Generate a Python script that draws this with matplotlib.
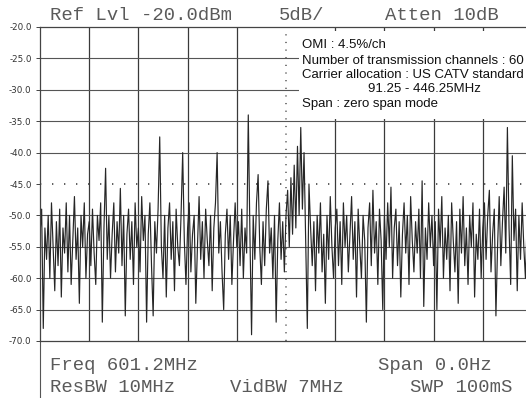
import numpy as np
import matplotlib
matplotlib.use("Agg")
import matplotlib.pyplot as plt
from matplotlib.patches import Rectangle

div0 = [-53, -49, -68, -52, -57, -50, -60, -48, -55, -62, -51, -58, -49, -63, -52,
        -56, -48, -59, -50, -61, -54, -47, -57, -52, -64, -50, -55, -48, -60, -53]
div1 = [-51, -58, -49, -56, -61, -50, -54, -48, -67, -52, -42.5, -57, -50, -60, -53,
        -48, -59, -51, -56, -45.7, -58, -50, -66, -53, -49, -57, -51, -61, -48, -55]
div2 = [-52, -59, -47, -54, -50, -67, -53, -48, -58, -66, -51, -56, -49, -37.5, -55,
        -60, -50, -63, -52, -48, -57, -51, -62, -49, -55, -58, -50, -40, -54, -61]
div3 = [-52, -48, -59, -53, -50, -64, -55, -47, -57, -51, -60, -49, -54, -58, -50,
        -62, -52, -48, -40, -56, -51, -59, -65, -53, -49, -57, -50, -61, -54, -48]
div4 = [-55, -51, -58, -49, -60, -52, -56, -34, -53, -69, -50, -57, -48, -43.5, -55,
        -61, -51, -58, -49, -44.5, -56, -52, -60, -50, -67, -54, -48, -57, -51, -59]
div5 = [-50, -46, -55, -44, -53, -42, -52, -39, -50, -36, -49, -40, -54, -68, -45,
        -52, -58, -51, -62, -50, -56, -48, -59, -53, -64, -50, -57, -47, -55, -60]
div6 = [-52, -49, -58, -51, -61, -48, -55, -50, -59, -53, -47, -57, -51, -63, -49,
        -55, -60, -50, -54, -67, -52, -48, -58, -46, -56, -51, -61, -49, -54, -65]
div7 = [-50, -57, -48, -55, -45.5, -60, -52, -49, -58, -51, -63, -53, -48, -56, -50,
        -61, -47, -54, -59, -51, -56, -49, -60, -44.5, -64.5, -52, -57, -48, -55, -50]
div8 = [-58, -51, -65, -49, -55, -47, -60, -52, -57, -50, -62, -48, -54, -59, -51,
        -64, -49, -56, -47, -58, -52, -61, -50, -55, -48, -63, -53, -57, -49, -60]
div9 = [-52, -48, -57, -50, -46, -59, -53, -49, -66, -55, -47, -58, -51, -45.5, -56,
        -36, -52, -61, -40.5, -54, -49, -62, -50, -57, -48, -55, -60, -51, -56, -52]

level_dbm = np.array(div0 + div1 + div2 + div3 + div4 + div5 + div6 + div7 + div8 + div9)
sweep_ms = 100.0
display_line = -45.0
ytick_vals = [-20, -25, -30, -35, -40, -45, -50, -55, -60, -65, -70]

header = ["Ref Lvl -20.0dBm", "5dB/", "Atten 10dB"]
footer_1 = ["Freq 601.2MHz", "Span 0.0Hz"]
footer_2 = ["ResBW 10MHz", "VidBW 7MHz", "SWP 100mS"]
notes = ["OMI : 4.5%/ch",
         "Number of transmission channels : 60",
         "Carrier allocation : US CATV standard",
         "91.25 - 446.25MHz",
         "Span : zero span mode"]

W, H = 526, 398
fig = plt.figure(figsize=(W / 100, H / 100), dpi=100)
# plot area runs a little past the right edge of the scan
ax = fig.add_axes([40 / W, (H - 341) / H, 492 / W, 314 / H])
ax.set_xlim(0, sweep_ms)
ax.set_ylim(-70, -20)

grid_col = "#3a3a3a"
for k in range(1, 10):
    t = k * sweep_ms / 10
    if k == 5:
        ax.axvline(t, color="#555555", lw=1.1, ls=(0, (0.8, 4.2)), zorder=1)
    else:
        ax.axvline(t, color=grid_col, lw=0.9, zorder=1)
for v in ytick_vals[1:-1]:
    if v == display_line:
        ax.axhline(v, color="#444444", lw=1.2, ls=(0, (0.8, 6.4)), zorder=1)
    else:
        ax.axhline(v, color="#555555", lw=0.8, zorder=1)

t_ms = np.arange(len(level_dbm)) * sweep_ms / len(level_dbm)
ax.plot(t_ms, level_dbm, color="#262626", lw=0.85, zorder=2)

ax.spines["right"].set_visible(False)
for s in ["left", "top", "bottom"]:
    ax.spines[s].set_color("#444444")
    ax.spines[s].set_linewidth(0.9)

ax.set_xticks([])
ax.set_yticks(ytick_vals)
ax.set_yticklabels([f"{v:.1f}" for v in ytick_vals], fontsize=6.3, color="#333333")
ax.tick_params(axis="y", length=3, width=0.7, color="#444444", pad=3)

# left edge of the graticule carries on below the plot
ax.plot([0, 0], [0, -0.2], transform=ax.get_xaxis_transform(), color="#555555",
        lw=0.8, clip_on=False)

# white panel behind the notes
fig.patches.append(Rectangle((299 / W, (H - 119) / H), 230 / W, 88 / H,
                             transform=fig.transFigure, facecolor="white",
                             edgecolor="none", zorder=3))
note_y = [45, 61, 75, 89, 104]
note_x = [302, 302, 302, 368, 302]
for txt, xx, yy in zip(notes, note_x, note_y):
    fig.text(xx / W, (H - yy) / H, txt, fontsize=9.5, family="Liberation Sans",
             va="center", ha="left", color="#111111", zorder=4)

mono = dict(family="Liberation Mono", fontsize=13.6, color="#5a5a5a", va="center", ha="left")
for txt, xx in zip(header, [50, 279, 385]):
    fig.text(xx / W, (H - 15) / H, txt, **mono)
for txt, xx in zip(footer_1, [50, 378]):
    fig.text(xx / W, (H - 365) / H, txt, **mono)
for txt, xx in zip(footer_2, [50, 230, 410]):
    fig.text(xx / W, (H - 388) / H, txt, **mono)

fig.savefig("out.png", dpi=100)
